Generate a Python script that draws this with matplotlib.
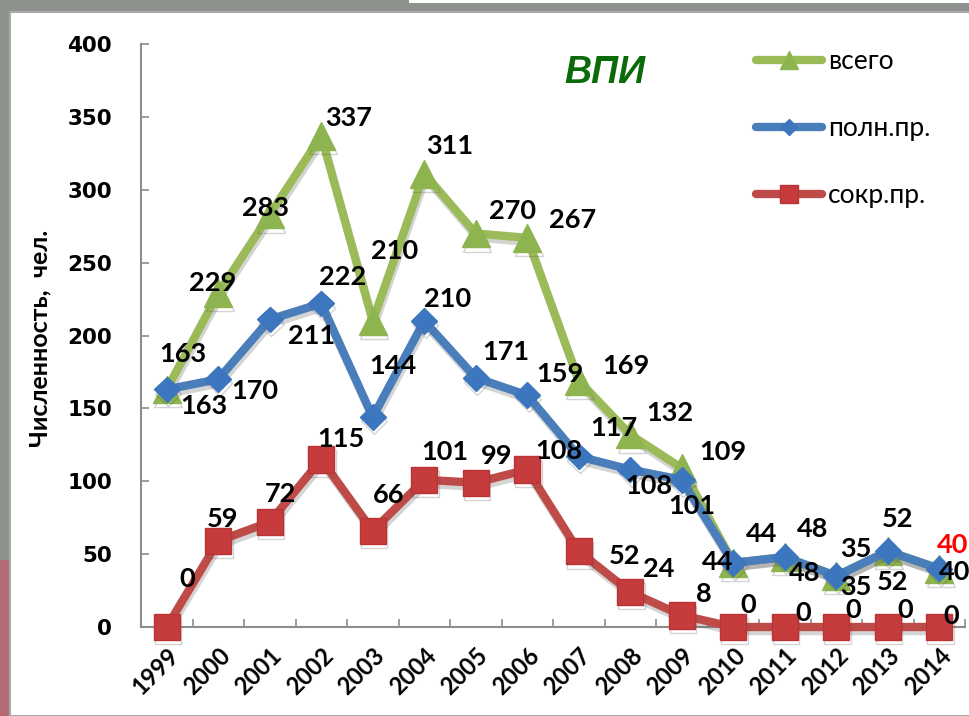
import matplotlib
matplotlib.use('Agg')
import matplotlib.pyplot as plt
import matplotlib.patheffects as pe
from matplotlib.lines import Line2D
from matplotlib.patches import Rectangle

# data
years = [str(y) for y in range(1999, 2015)]
total = [163, 229, 283, 337, 210, 311, 270, 267, 169, 132, 109, 44, 48, 35, 52, 40]
full = [163, 170, 211, 222, 144, 210, 171, 159, 117, 108, 101, 44, 48, 35, 52, 40]
short = [0, 59, 72, 115, 66, 101, 99, 108, 52, 24, 8, 0, 0, 0, 0, 0]
series_names = ['всего', 'полн.пр.', 'сокр.пр.']
y_ticks = [0, 50, 100, 150, 200, 250, 300, 350, 400]

# label offsets in pixels (right, down) -- labels were hand-placed in the original
total_off = [(16, -34), (-6, -9), (-4, -6), (27, -17), (22, -69), (25, -27), (37, -21), (45, -17),
             (47, -14), (40, -21), (41, -15), (-16, 0), (20, 17), (20, 12), (5, 32), (13, -23)]
full_off = [(37, 18), (37, 13), (42, 18), (21, -25), (20, -50), (23, -21), (30, -25), (33, -20),
            (35, -27), (19, 17), (10, 27), (28, -28), (28, -27), (20, -26), (10, -31), (15, 4)]
short_off = [(20, -47), (4, -21), (11, -27), (20, -19), (16, -35), (21, -27), (21, -26), (32, -18),
             (46, 6), (28, -22), (22, -20), (15, -21), (18, -13), (17, -16), (17, -16), (12, -10)]

W, H = 969, 716
fig = plt.figure(figsize=(W / 100, H / 100), dpi=100)
fig.patch.set_facecolor('#8e928c')


def fx(x):
    return x / W


def fy(y):
    return 1 - y / H


# background: photo strip on the left, white panel
fig.add_artist(Rectangle((0, 0), fx(10), fy(560), transform=fig.transFigure,
                         facecolor='#b46a74', edgecolor='none', zorder=0))
fig.add_artist(Rectangle((fx(409), fy(3)), 1, 1, transform=fig.transFigure,
                         facecolor='white', edgecolor='none', zorder=0))
fig.add_artist(Rectangle((fx(10), 0), 1, fy(12), transform=fig.transFigure,
                         facecolor='white', edgecolor='#a8a8a8', linewidth=1.5, zorder=0))

ax = fig.add_axes([fx(141), fy(627), fx(965) - fx(141), fy(44) - fy(627)])
ax.set_facecolor('none')

x = list(range(len(years)))
shadow = [pe.SimpleLineShadow(offset=(1, -3), shadow_color='#555555', alpha=0.25), pe.Normal()]

ax.plot(x, total, color='#9BBB59', lw=6, marker='^', ms=20, mfc='#8DB44E', mec='#8DB44E',
        solid_joinstyle='round', solid_capstyle='round', zorder=3, clip_on=False, path_effects=shadow)
ax.plot(x, full, color='#4A7EBB', lw=6, marker='D', ms=13, mfc='#3C76BE', mec='#3C76BE',
        solid_joinstyle='round', solid_capstyle='round', zorder=4, clip_on=False, path_effects=shadow)
ax.plot(x, short, color='#BE4B48', lw=6, marker='s', ms=19, mfc='#C63B3B', mec='#B83535',
        solid_joinstyle='round', solid_capstyle='round', zorder=5, clip_on=False, path_effects=shadow)

label_font = dict(family='Lato', weight='bold', size=19.5)
for vals, offs in [(total, total_off), (full, full_off), (short, short_off)]:
    for i, (v, (dx, dy)) in enumerate(zip(vals, offs)):
        color = 'red' if (vals is total and i == len(vals) - 1) else 'black'
        ax.annotate(str(v), (i, v), xytext=(dx, -dy + 1), textcoords='offset pixels',
                    ha='center', va='center', color=color, zorder=6, annotation_clip=False,
                    **label_font)

ax.set_xlim(-0.5, len(years) - 0.5)
ax.set_ylim(0, 400)
ax.set_yticks(y_ticks)
ax.set_xticks(x)
ax.set_xticklabels(years)
ax.set_xticks([i - 0.5 for i in range(len(years) + 1)], minor=True)

for s in ['top', 'right']:
    ax.spines[s].set_visible(False)
for s in ['left', 'bottom']:
    ax.spines[s].set_color('#8c8c8c')
    ax.spines[s].set_linewidth(1.5)

ax.tick_params(axis='x', which='major', length=0, pad=12)
ax.tick_params(axis='x', which='minor', direction='in', length=6, width=1.2, color='#8c8c8c')
ax.tick_params(axis='y', direction='in', length=6, width=1.2, color='#8c8c8c', pad=21)

for t in ax.get_yticklabels():
    t.set_fontfamily('DejaVu Sans')
    t.set_fontweight('bold')
    t.set_fontsize(15.5)
for t in ax.get_xticklabels():
    t.set_fontfamily('Lato')
    t.set_fontweight('bold')
    t.set_fontsize(17)
    t.set_rotation(45)
    t.set_ha('right')
    t.set_va('top')
    t.set_rotation_mode('anchor')

ax.set_ylabel('Численность,  чел.', fontfamily='Lato', fontweight='bold', fontsize=18, va='center')
ax.yaxis.set_label_coords((40 - 141) / 824, (627 - 338) / 583)

fig.text(fx(605), fy(73), 'ВПИ', fontfamily='Liberation Sans', fontweight='bold', fontstyle='italic',
         fontsize=27, color='#0B6B0B', ha='center', va='center')

handles = [
    Line2D([], [], color='#9BBB59', lw=6, marker='^', ms=13, mfc='#8DB44E', mec='#8DB44E',
           solid_capstyle='round'),
    Line2D([], [], color='#4A7EBB', lw=6, marker='D', ms=8, mfc='#3C76BE', mec='#3C76BE',
           solid_capstyle='round'),
    Line2D([], [], color='#BE4B48', lw=6, marker='s', ms=13, mfc='#C63B3B', mec='#B83535',
           solid_capstyle='round'),
]
leg = fig.legend(handles, series_names, loc='upper left', bbox_to_anchor=(fx(756), fy(49)),
                 frameon=False, borderpad=0, borderaxespad=0, handlelength=2.5, handletextpad=0.22,
                 labelspacing=1.6, prop=dict(family='Lato', size=19))

fig.savefig('out.png', dpi=100, facecolor=fig.get_facecolor())
